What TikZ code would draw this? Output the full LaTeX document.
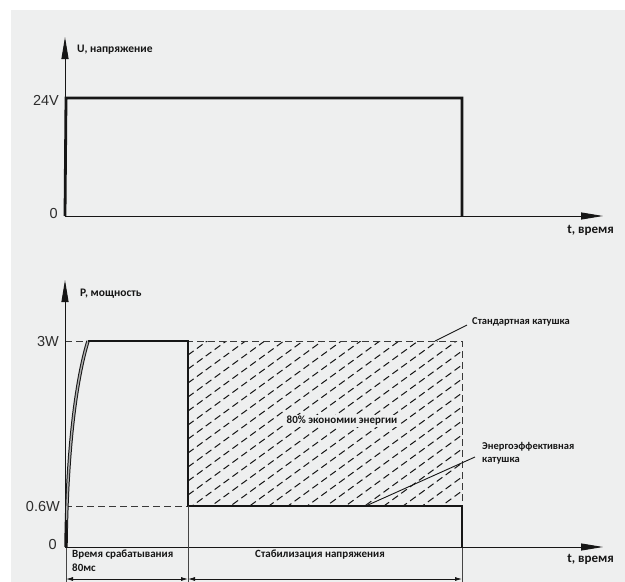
\documentclass[tikz,border=0pt]{standalone}
\usepackage{fontspec}
\setmainfont{Carlito}
\newfontfamily\arialf{Liberation Sans}
\usetikzlibrary{arrows.meta}
\definecolor{panel}{HTML}{EEEFEF}
\definecolor{ink}{HTML}{161616}
\begin{document}
\begin{tikzpicture}[x=1pt,y=-1pt,
  axis/.style={line width=0.9pt,draw=ink,-{Triangle[length=22pt,width=7pt]}},
  thick line/.style={line width=2.8pt,draw=ink},
  guide/.style={line width=1pt,draw=ink!85,dash pattern=on 7pt off 4pt},
  hatch/.style={line width=1pt,draw=ink,dash pattern=on 7pt off 4pt},
  lbl/.style={font=\bfseries\fontsize{11.5}{13}\selectfont,text=ink,inner sep=0pt},
  num/.style={font=\arialf\fontsize{14.5}{16}\selectfont,text=ink!90,inner sep=0pt},
  leader/.style={line width=0.9pt,draw=ink},
  dim/.style={line width=0.8pt,draw=ink,{Latex[length=7pt,width=4pt]}-{Latex[length=7pt,width=4pt]}},
  ext/.style={line width=0.5pt,draw=ink!80}]
\useasboundingbox (0,0) rectangle (625,582);
\fill[white] (0,0) rectangle (625,582);
\fill[panel] (11,10) rectangle (625,582);

% ---------- top chart ----------
\coordinate (uo) at (65,216);
\coordinate (utop) at (65,37);
\coordinate (uend) at (603,216);
\coordinate (u24l) at (66,98);
\coordinate (u24r) at (462,98);
\coordinate (u0r) at (462,216);
\draw[thick line] (uo) -- (u24l) -- (u24r) -- (u0r);
\draw[axis] (uo) -- (utop);
\draw[axis] (uo) -- (uend);
\node[lbl,anchor=west] (ulab) at (77,50) {U, напряжение};
\node[num,anchor=east] (u24) at (59,100) {24V};
\node[num,anchor=east] (u0) at (58,214) {0};
\node[lbl,anchor=east,font=\bfseries\fontsize{13}{15}\selectfont] (ut) at (614,230) {t, время};

% ---------- bottom chart ----------
\coordinate (po) at (65,547);
\coordinate (ptop) at (65,280);
\coordinate (pend) at (603,547);
\coordinate (p3a) at (88,341);
\coordinate (p3b) at (188,341);
\coordinate (p06b) at (188,506);
\coordinate (p06c) at (462,506);
\coordinate (p0c) at (462,547);
\coordinate (p3c) at (462,341);
\coordinate (p3l) at (65,341);
\coordinate (p06l) at (65,506);

% hatched saving area
\begin{scope}
  \clip (p3b) rectangle (p06c);
  \foreach \i in {0,...,28}{
    \draw[hatch] (188,{341+\i*14}) -- (462,{341+\i*14-200});
  }
\end{scope}
\draw[guide] (p3l) -- (p3c) -- (p06c);
\draw[guide] (p06l) -- (p06b);

% power curve
\draw[line width=1pt,draw=ink,double=ink!35,double distance=1.4pt]
  (66,547) .. controls (67,450) and (76,380) .. (p3a);
\draw[thick line] (p3a) -- (p3b) -- (p06b) -- (p06c) -- (p0c);
\draw[thick line] (66,547) -- (66,520);

\draw[axis] (po) -- (ptop);
\draw[axis] (po) -- (pend);

\node[lbl,anchor=west] (plab) at (80,294) {P, мощность};
\node[num,anchor=east] (p3) at (59,342) {3W};
\node[num,anchor=east] (p06) at (60,507) {0.6W};
\node[num,anchor=east] (p0) at (57,545) {0};
\node[lbl,anchor=east,font=\bfseries\fontsize{13}{15}\selectfont] (pt) at (614,559) {t, время};

% annotations
\node[lbl,anchor=west,font=\bfseries\fontsize{10.5}{12}\selectfont] (std) at (472,322) {Стандартная катушка};
\coordinate (stdp) at (435,341);
\draw[leader] (std.west) ++(-5,3) coordinate (stda) -- (stdp);
\node[lbl,anchor=center,fill=panel,inner sep=1.5pt,font=\bfseries\fontsize{11}{13}\selectfont] (save) at (342,421) {80\% экономии энергии};
\node[lbl,anchor=north west,align=left,font=\bfseries\fontsize{10.5}{13}\selectfont] (eff) at (482,442) {Энергоэффективная\\катушка};
\coordinate (effa) at (475,457);
\coordinate (effp) at (368,505);
\draw[leader] (effa) -- (effp);

% dimension lines
\coordinate (d0t) at (66,548);
\coordinate (d0b) at (66,582);
\coordinate (d1t) at (188,506);
\coordinate (d1b) at (188,582);
\coordinate (d2t) at (462,548);
\coordinate (d2b) at (462,582);
\draw[ext] (d0t) -- (d0b);
\draw[ext] (d1t) -- (d1b);
\draw[ext] (d2t) -- (d2b);
\coordinate (a0) at (66,579);
\coordinate (a1) at (188,579);
\coordinate (a2) at (462,579);
\draw[dim] (a0) -- (a1);
\draw[dim] (a1) -- (a2);
\node[lbl,anchor=north west,align=left,font=\bfseries\fontsize{11}{13.5}\selectfont] (tresp) at (72,550) {Время срабатывания\\80мс};
\node[lbl,anchor=north,font=\bfseries\fontsize{11}{13.5}\selectfont] (tstab) at (320,550) {Стабилизация напряжения};
\end{tikzpicture}
\end{document}
